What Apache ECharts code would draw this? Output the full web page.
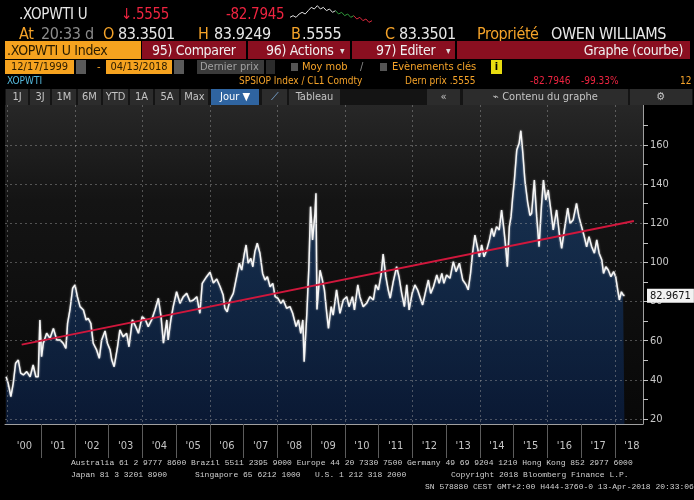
<!DOCTYPE html>
<html>
<head>
<meta charset="utf-8">
<title>.XOPWTI U Index</title>
<script src="https://cdn.jsdelivr.net/npm/echarts@6.0.0/dist/echarts.min.js"></script>
<style>
html, body { margin: 0; padding: 0; background: #000; }
#wrap { position: relative; width: 694px; height: 500px; overflow: hidden; background: #000;
  font-family: "Liberation Sans Narrow", "DejaVu Sans Condensed", Roboto, sans-serif; }
#chart { position: absolute; left: 0; top: 0; width: 694px; height: 500px; }
.t { position: absolute; white-space: pre; line-height: 1; z-index: 2; }
.b { position: absolute; z-index: 2; box-sizing: border-box; white-space: pre; line-height: 1; overflow: hidden; }
.or { color: #f5a329; }
.wh { color: #e8e8e8; }
.gr { color: #8c8c8c; }
.rd { color: #ee2440; }
.r1 { top: 7px; font-size: 15px; letter-spacing: -0.3px; }
.r2 { top: 26px; font-size: 16px; letter-spacing: -0.4px; }
.r3 { top: 41px; height: 18px; font-size: 14px; padding-top: 2px; letter-spacing: -0.3px; }
.r4 { top: 60px; height: 14px; font-size: 11px; padding-top: 1px; }
.r5 { top: 76px; font-size: 10px; }
.r6 { top: 89px; height: 16px; font-size: 11px; padding-top: 2px; background: #2c2c2c; color: #c4c4c4; text-align: center; }
.red { background: #8a0f20; color: #f0f0f0; }
.ora { background: #f6a31f; color: #2a1c00; }
.ft { position: absolute; z-index: 2; white-space: pre; line-height: 1; font-family: "Liberation Mono", "DejaVu Sans Mono", monospace; font-size: 8px; color: #d0d0d0; }
</style>
</head>
<body>
<div id="wrap">
  <div id="chart"></div>

  <div class="t r1 wh" style="left:19px">.XOPWTI U</div>
  <div class="t r1 rd" style="left:121px">↓.5555</div>
  <div class="t r1 rd" style="left:226px">-82.7945</div>

  <div class="t r2 or" style="left:19px">At</div>
  <div class="t r2 gr" style="left:41px">20:33</div>
  <div class="t r2 gr" style="left:85px">d</div>
  <div class="t r2 or" style="left:103px">O</div>
  <div class="t r2 wh" style="left:118px">83.3501</div>
  <div class="t r2 or" style="left:198px">H</div>
  <div class="t r2 wh" style="left:214px">83.9249</div>
  <div class="t r2 or" style="left:291px">B</div>
  <div class="t r2 wh" style="left:302px">.5555</div>
  <div class="t r2 or" style="left:385px">C</div>
  <div class="t r2 wh" style="left:399px">83.3501</div>
  <div class="t r2 or" style="left:477px">Propriété</div>
  <div class="t r2 wh" style="left:551px">OWEN WILLIAMS</div>

  <div class="b r3 ora" style="left:5px;width:136px;padding-left:2px">.XOPWTI U Index</div>
  <div class="b r3 red" style="left:142px;width:104px;padding-left:10px">95) Comparer</div>
  <div class="b r3 red" style="left:248px;width:102px;padding-left:18px">96) Actions</div>
  <div class="t r3" style="left:340px;color:#ddd;font-size:10px;padding-top:5px">▾</div>
  <div class="b r3 red" style="left:352px;width:103px;padding-left:24px">97) Editer</div>
  <div class="t r3" style="left:446px;color:#ddd;font-size:10px;padding-top:5px">▾</div>
  <div class="b r3 red" style="left:457px;width:233px;padding-right:7px;text-align:right">Graphe (courbe)</div>

  <div class="b r4 ora" style="left:5px;width:69px;text-align:center">12/17/1999</div>
  <div class="b r4" style="left:76px;width:10px;background:#5a5a5a"></div>
  <div class="t r4 or" style="left:97px">-</div>
  <div class="b r4 ora" style="left:106px;width:66px;text-align:center">04/13/2018</div>
  <div class="b r4" style="left:174px;width:10px;background:#5a5a5a"></div>
  <div class="b r4" style="left:197px;width:67px;background:#3a3a3a;color:#a0a0a0;padding-left:3px">Dernier prix</div>
  <div class="b r4" style="left:266px;width:9px;background:#2b2b2b"></div>
  <div class="b" style="left:291px;top:63px;width:7px;height:8px;background:#555"></div>
  <div class="t r4 or" style="left:302px">Moy mob</div>
  <div class="t r4 gr" style="left:360px">/</div>
  <div class="b" style="left:380px;top:63px;width:7px;height:8px;background:#555"></div>
  <div class="t r4 or" style="left:392px">Evènements clés</div>
  <div class="b r4" style="left:491px;width:11px;background:#e8dc10;color:#000;text-align:center;font-weight:bold">i</div>

  <div class="t r5" style="left:7px;color:#55b9dc">XOPWTI</div>
  <div class="t r5 or" style="left:239px">SPSIOP Index / CL1 Comdty</div>
  <div class="t r5 or" style="left:405px">Dern prix .5555</div>
  <div class="t r5 rd" style="left:530px">-82.7946</div>
  <div class="t r5 rd" style="left:581px">-99.33%</div>
  <div class="t r5 or" style="left:680px">12</div>

  <div class="b" style="left:5px;top:89px;width:688px;height:16px;background:#141414"></div>
  <div class="b r6" style="left:6px;width:22px">1J</div>
  <div class="b r6" style="left:30px;width:20px">3J</div>
  <div class="b r6" style="left:52px;width:24px">1M</div>
  <div class="b r6" style="left:78px;width:23px">6M</div>
  <div class="b r6" style="left:103px;width:25px">YTD</div>
  <div class="b r6" style="left:130px;width:23px">1A</div>
  <div class="b r6" style="left:155px;width:24px">5A</div>
  <div class="b r6" style="left:181px;width:27px">Max</div>
  <div class="b r6" style="left:211px;width:48px;background:#2f64a0;color:#fff">Jour ▼</div>
  <div class="b r6" style="left:262px;width:25px;color:#7fb0e0">⟋</div>
  <div class="b r6" style="left:289px;width:51px">Tableau</div>
  <div class="b r6" style="left:427px;width:33px">«</div>
  <div class="b r6" style="left:463px;width:165px">⌁ Contenu du graphe</div>
  <div class="b r6" style="left:630px;width:62px">⚙</div>

  <div class="ft" style="left:71px;top:459px">Australia 61 2 9777 8600 Brazil 5511 2395 9000 Europe 44 20 7330 7500 Germany 49 69 9204 1210 Hong Kong 852 2977 6000</div>
  <div class="ft" style="left:71px;top:471px">Japan 81 3 3201 8900</div>
  <div class="ft" style="left:195px;top:471px">Singapore 65 6212 1000</div>
  <div class="ft" style="left:315px;top:471px">U.S. 1 212 318 2000</div>
  <div class="ft" style="left:451px;top:471px">Copyright 2018 Bloomberg Finance L.P.</div>
  <div class="ft" style="left:425px;top:483px">SN 578880 CEST GMT+2:00 H444-3760-0 13-Apr-2018 20:33:06</div>
</div>

<script>
// dates as decimal years
const dates = [
  1999.96, 2000.02, 2000.10, 2000.17, 2000.24, 2000.32, 2000.39, 2000.47, 2000.57, 2000.67,
  2000.76, 2000.84, 2000.91, 2000.96, 2001.01, 2001.06, 2001.16, 2001.26, 2001.36, 2001.46,
  2001.56, 2001.65, 2001.73, 2001.78, 2001.85, 2001.93, 2002.00, 2002.07, 2002.15, 2002.25,
  2002.33, 2002.39, 2002.47, 2002.54, 2002.64, 2002.72, 2002.79, 2002.89, 2002.96, 2003.04,
  2003.09, 2003.16, 2003.26, 2003.33, 2003.43, 2003.53, 2003.60, 2003.70, 2003.80, 2003.88,
  2003.99, 2004.09, 2004.17, 2004.27, 2004.37, 2004.47, 2004.55, 2004.62, 2004.72, 2004.76,
  2004.84, 2004.91, 2005.01, 2005.11, 2005.21, 2005.31, 2005.41, 2005.51, 2005.61, 2005.70,
  2005.77, 2005.90, 2006.00, 2006.10, 2006.20, 2006.30, 2006.39, 2006.44, 2006.51, 2006.59,
  2006.69, 2006.79, 2006.87, 2006.94, 2007.02, 2007.07, 2007.13, 2007.21, 2007.27, 2007.33,
  2007.40, 2007.48, 2007.56, 2007.63, 2007.70, 2007.78, 2007.86, 2007.93, 2008.01, 2008.10,
  2008.17, 2008.27, 2008.37, 2008.45, 2008.55, 2008.62, 2008.69, 2008.75, 2008.79, 2008.87,
  2008.93, 2008.98, 2009.04, 2009.11, 2009.14, 2009.17, 2009.26, 2009.33, 2009.39, 2009.46,
  2009.51, 2009.59, 2009.65, 2009.75, 2009.85, 2009.95, 2010.05, 2010.12, 2010.22, 2010.28,
  2010.38, 2010.44, 2010.54, 2010.64, 2010.74, 2010.84, 2010.91, 2010.99, 2011.07, 2011.13,
  2011.21, 2011.28, 2011.34, 2011.43, 2011.53, 2011.60, 2011.68, 2011.76, 2011.83, 2011.90,
  2011.99, 2012.07, 2012.15, 2012.25, 2012.30, 2012.40, 2012.47, 2012.54, 2012.62, 2012.72,
  2012.79, 2012.87, 2012.93, 2013.01, 2013.11, 2013.21, 2013.29, 2013.39, 2013.49, 2013.59,
  2013.65, 2013.72, 2013.78, 2013.85, 2013.92, 2013.98, 2014.05, 2014.12, 2014.20, 2014.28,
  2014.35, 2014.41, 2014.49, 2014.57, 2014.64, 2014.71, 2014.77, 2014.81, 2014.87, 2014.92,
  2014.97, 2015.02, 2015.09, 2015.16, 2015.21, 2015.27, 2015.33, 2015.41, 2015.48, 2015.53,
  2015.61, 2015.68, 2015.75, 2015.82, 2015.88, 2015.95, 2016.02, 2016.10, 2016.17, 2016.27,
  2016.35, 2016.42, 2016.50, 2016.60, 2016.67, 2016.76, 2016.86, 2016.93, 2017.01, 2017.09,
  2017.16, 2017.23, 2017.31, 2017.39, 2017.46, 2017.53, 2017.61, 2017.66, 2017.73, 2017.80,
  2017.88, 2017.96, 2018.02, 2018.09, 2018.13, 2018.19, 2018.24, 2018.28
];

const values = [
  41.6, 38.2, 31.4, 38.2, 48.5, 50.1, 43.4, 42.5, 44.2, 41.6,
  47.6, 41.6, 41.6, 70.6, 51.8, 58.7, 63.8, 61.2, 66.3, 60.4,
  60.4, 58.7, 56.1, 68.9, 75.7, 86.8, 88.5, 82.5, 77.4, 75.7,
  70.6, 71.4, 68.9, 58.7, 55.3, 51.0, 60.4, 65.0, 58.7, 55.3,
  50.1, 46.7, 56.9, 65.5, 62.0, 63.8, 56.9, 70.6, 67.2, 63.8,
  72.3, 70.6, 67.2, 70.6, 75.7, 81.7, 72.3, 58.7, 70.6, 60.4,
  70.6, 77.4, 85.0, 79.1, 82.5, 84.2, 80.0, 80.8, 82.5, 74.0,
  89.3, 92.7, 95.0, 89.5, 91.5, 87.6, 83.4, 76.6, 74.8, 80.8,
  84.2, 92.7, 99.6, 96.1, 104.7, 108.9, 99.6, 102.1, 97.8, 105.5,
  109.8, 104.7, 94.4, 91.0, 92.7, 87.6, 89.3, 82.5, 81.7, 79.1,
  80.8, 76.6, 77.4, 74.0, 67.2, 70.6, 63.8, 70.6, 49.3, 74.0,
  97.8, 128.5, 111.5, 125.1, 135.3, 76.0, 96.0, 91.0, 86.0, 74.0,
  66.3, 77.4, 73.1, 86.0, 74.0, 80.8, 82.5, 77.4, 82.5, 75.7,
  88.5, 82.5, 77.4, 79.1, 82.5, 80.8, 88.5, 86.0, 93.6, 104.3,
  92.7, 86.0, 81.7, 90.2, 97.8, 92.7, 84.2, 77.4, 88.5, 75.7,
  84.2, 88.5, 86.0, 80.8, 78.3, 86.0, 91.0, 84.2, 87.6, 93.6,
  89.3, 94.4, 89.3, 93.6, 91.9, 100.4, 95.3, 99.6, 91.0, 88.5,
  86.0, 94.4, 104.7, 114.0, 108.0, 102.9, 108.9, 102.9, 106.4, 111.5,
  117.4, 113.2, 118.3, 116.6, 126.8, 116.6, 106.4, 97.8, 118.3, 123.4,
  133.6, 142.1, 157.5, 160.9, 167.3, 155.8, 142.0, 131.0, 124.0, 125.1,
  142.1, 123.4, 108.0, 128.5, 142.1, 131.9, 137.0, 126.8, 116.6, 126.8,
  114.9, 107.2, 116.6, 127.7, 120.0, 121.7, 130.2, 123.4, 118.3, 113.2,
  108.0, 113.2, 108.0, 104.7, 111.5, 104.7, 101.2, 94.4, 97.8, 96.1,
  92.7, 95.3, 92.7, 85.0, 80.8, 85.0, 83.4, 82.97
];

// red trend line end points
const trendDates = [2000.42, 2018.56];
const trendValues = [58.0, 121.2];

const lastPrice = 82.9671;

const years = [2000, 2001, 2002, 2003, 2004, 2005, 2006, 2007, 2008, 2009,
  2010, 2011, 2012, 2013, 2014, 2015, 2016, 2017, 2018];
const yearLabels = ["'00", "'01", "'02", "'03", "'04", "'05", "'06", "'07", "'08", "'09",
  "'10", "'11", "'12", "'13", "'14", "'15", "'16", "'17", "'18"];
const gridYears = [2000, 2002, 2004, 2006, 2008, 2010, 2012, 2014, 2016, 2018];
const yLabelValues = [20, 40, 60, 80, 100, 120, 140, 160];
const yTickValues = [20, 30, 40, 50, 60, 70, 80, 90, 100, 110, 120, 130, 140, 150, 160, 170];

// small sparkline in the header
const sparkWhite = [4, 5, 4, 6, 7, 6, 8, 10, 9, 11, 9, 10, 8, 9, 7, 8];
const sparkGreen = [8, 6, 7, 5, 6, 4, 5];
const sparkRed = [5, 3, 4, 2, 3, 1, 2];

const FONT = 'Liberation Sans Narrow, DejaVu Sans Condensed, Roboto, sans-serif';

function sparkSeries(arr, offset, total) {
    const out = [];
    for (let i = 0; i < total; i++) {
        out.push(i >= offset && i < offset + arr.length ? arr[i - offset] : null);
    }
    return out;
}

function renderChart() {
    const chart = echarts.init(document.getElementById('chart'));

    // axis ranges (decimal years / index points)
    const xMin = 1999.926;
    const xMax = 2018.83;
    const yMin = 17.44;
    const yMax = 180.44;

    const sparkTotal = sparkWhite.length + sparkGreen.length + sparkRed.length - 2;
    const sparkCats = [];
    for (let i = 0; i < sparkTotal; i++) sparkCats.push(i);

    const gridLine = { show: true, lineStyle: { color: 'rgba(160,160,160,0.45)', type: [2, 3] } };

    const option = {
        backgroundColor: '#000',
        animation: false,
        grid: [
            {
                left: 5, right: 51, top: 105, bottom: 76,
                show: true,
                borderWidth: 0,
                backgroundColor: {
                    type: 'linear', x: 0, y: 0, x2: 0, y2: 1,
                    colorStops: [
                        { offset: 0, color: '#272727' },
                        { offset: 0.3, color: '#141414' },
                        { offset: 1, color: '#080808' }
                    ]
                }
            },
            { left: 290, top: 4, width: 82, height: 20 }
        ],
        xAxis: [
            {
                type: 'value', gridIndex: 0, min: xMin, max: xMax,
                axisLine: { show: true, onZero: false, lineStyle: { color: '#a0a0a0', width: 1 } },
                axisTick: {
                    show: true, length: 34,
                    customValues: years.slice(1),
                    lineStyle: { color: '#5c5c5c' }
                },
                axisLabel: {
                    customValues: years.map(y => y + 0.5),
                    formatter: v => yearLabels[Math.floor(v) - years[0]],
                    color: '#c4c4c4', fontSize: 11, margin: 17, fontFamily: FONT
                },
                splitLine: { show: false }
            },
            {
                type: 'value', gridIndex: 0, min: xMin, max: xMax, z: 3, position: 'top',
                axisLine: { show: false },
                axisTick: { show: false, customValues: gridYears },
                axisLabel: { show: false },
                splitLine: gridLine
            },
            {
                type: 'category', gridIndex: 1, data: sparkCats, show: false, boundaryGap: false
            }
        ],
        yAxis: [
            {
                type: 'value', gridIndex: 0, position: 'right', min: yMin, max: yMax,
                axisLine: { show: true, onZero: false, lineStyle: { color: '#a0a0a0' } },
                axisTick: { show: true, length: 5, customValues: yTickValues, lineStyle: { color: '#c0c0c0' } },
                axisLabel: {
                    customValues: yLabelValues, color: '#c8c8c8', fontSize: 11, margin: 7, fontFamily: FONT
                },
                splitLine: { show: false }
            },
            {
                type: 'value', gridIndex: 0, position: 'left', min: yMin, max: yMax, z: 3,
                axisLine: { show: false },
                axisTick: { show: false, customValues: yLabelValues },
                axisLabel: { show: false },
                splitLine: gridLine
            },
            {
                type: 'value', gridIndex: 1, show: false, scale: true
            }
        ],
        series: [
            {
                name: '.XOPWTI U',
                type: 'line',
                xAxisIndex: 0, yAxisIndex: 0,
                data: dates.map((d, i) => [d, values[i]]),
                symbol: 'none',
                lineStyle: { color: '#f6f6f6', width: 1.5, shadowColor: 'rgba(200,200,200,0.9)', shadowBlur: 2 },
                areaStyle: {
                    origin: 'start',
                    color: {
                        type: 'linear', x: 0, y: 0, x2: 0, y2: 1,
                        colorStops: [
                            { offset: 0, color: '#1c416d' },
                            { offset: 0.5, color: '#13325c' },
                            { offset: 1, color: '#0b2046' }
                        ]
                    }
                },
                z: 2,
                markLine: {
                    silent: true,
                    symbol: ['none', 'none'],
                    lineStyle: { color: 'rgba(0,0,0,0)', width: 0 },
                    label: {
                        show: true, position: 'end', distance: 4,
                        formatter: String(lastPrice),
                        backgroundColor: '#f2f2f2', color: '#111',
                        padding: [2, 3, 1, 3], fontSize: 11, fontFamily: FONT
                    },
                    data: [{ yAxis: lastPrice }]
                }
            },
            {
                name: 'Trend',
                type: 'line',
                xAxisIndex: 0, yAxisIndex: 0,
                data: trendDates.map((d, i) => [d, trendValues[i]]),
                symbol: 'none',
                lineStyle: { color: '#d0173c', width: 2 },
                z: 4
            },
            {
                type: 'line', xAxisIndex: 2, yAxisIndex: 2, symbol: 'none',
                data: sparkSeries(sparkWhite, 0, sparkTotal),
                lineStyle: { color: '#e0e0e0', width: 1 }
            },
            {
                type: 'line', xAxisIndex: 2, yAxisIndex: 2, symbol: 'none',
                data: sparkSeries(sparkGreen, sparkWhite.length - 1, sparkTotal),
                lineStyle: { color: '#2f9a3a', width: 1 }
            },
            {
                type: 'line', xAxisIndex: 2, yAxisIndex: 2, symbol: 'none',
                data: sparkSeries(sparkRed, sparkWhite.length + sparkGreen.length - 2, sparkTotal),
                lineStyle: { color: '#d8283c', width: 1 }
            }
        ]
    };

    chart.setOption(option);
}

renderChart();
</script>
</body>
</html>
